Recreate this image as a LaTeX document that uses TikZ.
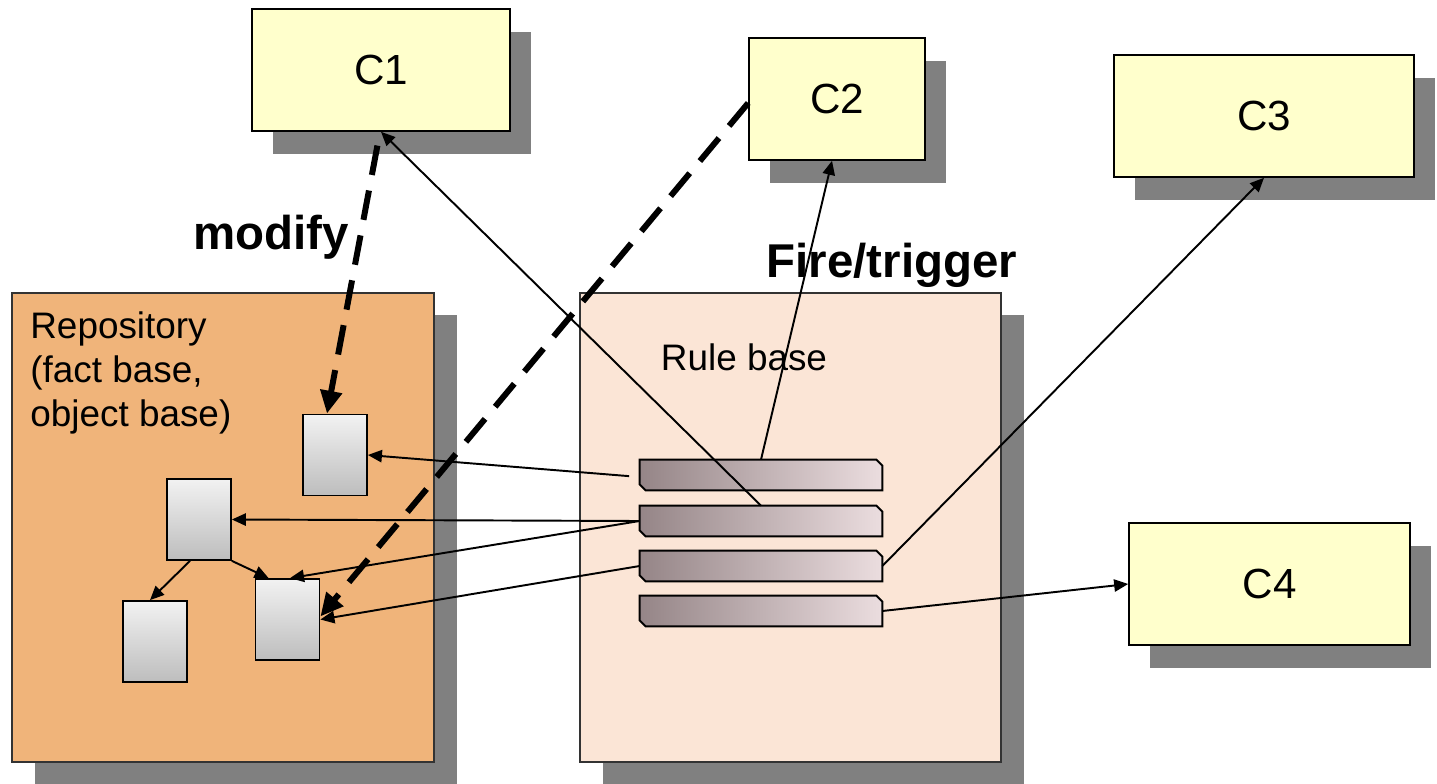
\documentclass[tikz,border=0pt]{standalone}
\usepackage{fontspec}
\setmainfont{Liberation Sans}
\usetikzlibrary{arrows.meta,shadows,calc}

\definecolor{compfill}{HTML}{FFFFCC}
\definecolor{shadowgray}{HTML}{808080}
\definecolor{repofill}{HTML}{F0B47A}
\definecolor{rulefill}{HTML}{FBE5D6}
\definecolor{bardark}{HTML}{958587}
\definecolor{barmid}{HTML}{CDBDBF}
\definecolor{barlight}{HTML}{EBDDDF}
\definecolor{docTop}{HTML}{F2F2F2}
\definecolor{docBottom}{HTML}{BDBDBD}

\tikzset{
  component/.style={draw=black, line width=0.9pt, fill=compfill,
    minimum height=122*0.02cm, inner sep=0pt,
    font=\fontsize{24}{28}\selectfont,
    drop shadow={shadow xshift=0.42cm, shadow yshift=-0.46cm,
      fill=shadowgray, opacity=1}},
  container/.style={draw=black!80, line width=0.9pt,
    minimum width=422*0.02cm, minimum height=469*0.02cm, inner sep=0pt,
    drop shadow={shadow xshift=0.46cm, shadow yshift=-0.45cm,
      fill=shadowgray, opacity=1}},
  docbox/.style={draw=black, line width=1pt, top color=docTop, bottom color=docBottom,
    minimum width=64*0.02cm, minimum height=81*0.02cm, inner sep=0pt},
  barslot/.style={minimum width=242*0.02cm, minimum height=30*0.02cm, inner sep=0pt},
  barshade/.style={draw=black, line width=1.1pt, left color=bardark,
    middle color=barmid, right color=barlight},
  link/.style={line width=1.1pt, -{Triangle[length=8pt,width=7pt]}},
  modlink/.style={line width=3.4pt, dash pattern=on 17pt off 9pt,
    -{Triangle[length=13pt,width=12pt]}},
  plainlabel/.style={font=\fontsize{21}{25}\selectfont, inner sep=0pt},
  boldlabel/.style={font=\fontsize{27}{32}\selectfont\bfseries, inner sep=0pt}
}

\begin{document}
\begin{tikzpicture}[x=0.02cm, y=-0.02cm]
\useasboundingbox (0,0) rectangle (1437,784);

% repository and rule base
\node[container, fill=repofill] (repo) at (223,527.5) {};
\node[container, fill=rulefill, minimum width=421*0.02cm] (rules) at (790.5,527.5) {};

\node[plainlabel, anchor=base west, align=left] (repolabel) at (30,426)
  {Repository\\(fact base,\\object base)};
\node[plainlabel] (ruleslabel) at (744,357) {Rule base};

% components
\node[component, minimum width=258*0.02cm] (C1) at (381,70) {C1};
\node[component, minimum width=176*0.02cm] (C2) at (837,99) {C2};
\node[component, minimum width=300*0.02cm] (C3) at (1264,116) {C3};
\node[component, minimum width=281*0.02cm] (C4) at (1269.5,584) {C4};

% facts / objects in the repository
\node[docbox] (A) at (335,455) {};
\node[docbox] (B) at (199,519.5) {};
\node[docbox] (C) at (155,641.5) {};
\node[docbox] (D) at (287.5,619.5) {};

% rules
\foreach \r/\yy in {r1/475, r2/521, r3/566, r4/611}{
  \node[barslot] (\r) at (761,\yy) {};
  \shade[barshade] (\r.north west) -- ([xshift=-0.12cm]\r.north east)
    -- ([yshift=-0.12cm]\r.north east) -- (\r.south east)
    -- ([xshift=0.12cm]\r.south west) -- ([yshift=0.12cm]\r.south west) -- cycle;
}

% labels
\node[boldlabel] (modlabel) at (271,237) {modify};
\node[boldlabel] (firelabel) at (892,265) {Fire/trigger};

% rule conditions and actions on the repository
\draw[link, shorten <=6pt] ([yshift=-0.04cm]r1.west) -- (A.east);
\draw[link] (r2.west) -- (B.east);
\draw[link] (r2.west) -- ([xshift=0.05cm]D.north);
\draw[link] (r3.west) -- (D.east);
\draw[link] ([xshift=-0.18cm]B.south) -- ([xshift=-0.1cm]C.north);
\draw[link] (B.south east) -- ([xshift=0.28cm]D.north west);

% rules firing components
\draw[link] (r2.north) -- (C1.south);
\draw[link] (r1.north) -- ([xshift=-0.1cm]C2.south);
\draw[link] (r3.east) -- (C3.south);
\draw[link] (r4.east) -- (C4.west);

% components modifying the repository
\draw[modlink, shorten <=8pt] ([xshift=-0.02cm]C1.south) -- ([xshift=-0.16cm]A.north);
\draw[modlink] ([yshift=-0.08cm]C2.west) -- ([yshift=0.06cm]D.east);
\end{tikzpicture}
\end{document}
